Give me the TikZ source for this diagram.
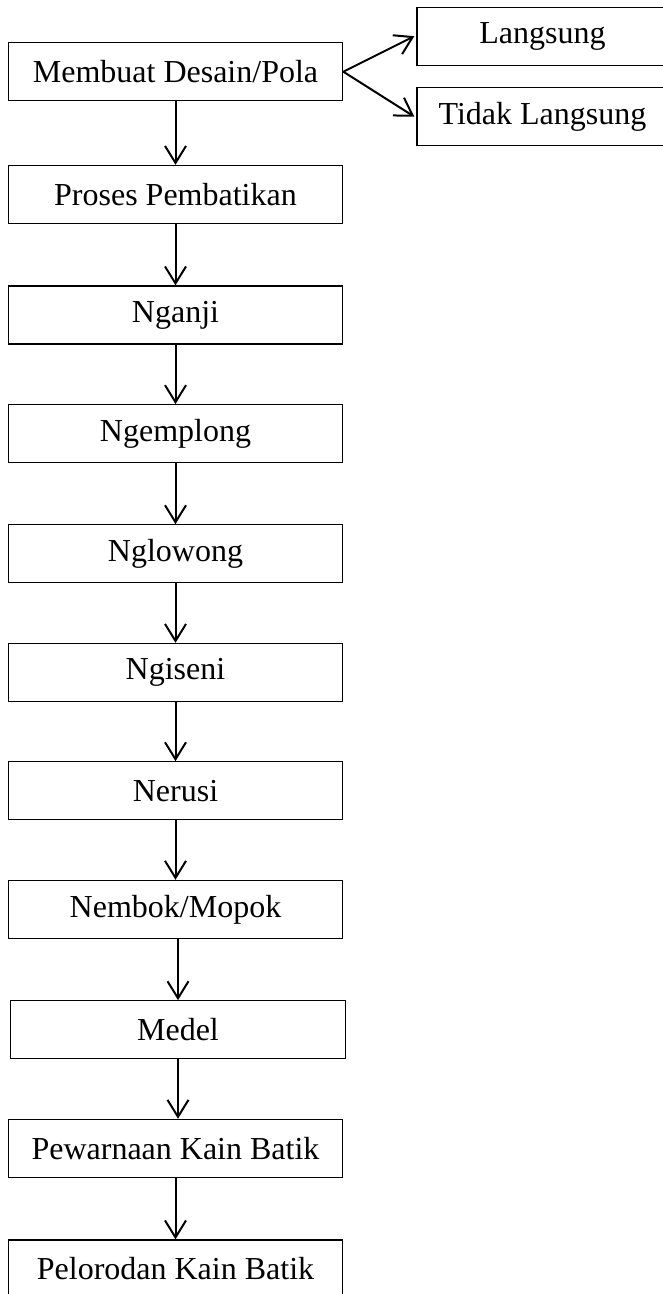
\documentclass[tikz,border=0pt]{standalone}
\usepackage{fontspec}
\setmainfont{Liberation Serif}
\usetikzlibrary{arrows.meta}
\begin{document}
\begin{tikzpicture}[x=1pt,y=-1pt,
  box/.style={draw=black,line width=1.3pt,minimum width=334.4pt,minimum height=58pt,inner sep=0pt,font=\fontsize{32}{36}\selectfont,anchor=center},
  sidebox/.style={box,minimum width=251pt},
  arr/.style={line width=2pt,-{Straight Barb[length=17pt,width=21pt,line width=2pt]}}]
\clip (0,0) rectangle (663,1294);
\fill[white] (0,0) rectangle (663,1294);
\node[box] (a) at (175.5,71.7) {Membuat Desain/Pola};
\node[sidebox] (l) at (542.5,36.2) {Langsung};
\node[sidebox] (t) at (542.5,116.7) {Tidak Langsung};
\node[box] (b) at (175.5,194.5) {Proses Pembatikan};
\node[box] (c) at (175.5,315) {Nganji};
\node[box] (d) at (175.5,433.7) {Ngemplong};
\node[box] (e) at (175.5,553.8) {Nglowong};
\node[box] (f) at (175.5,672.5) {Ngiseni};
\node[box] (g) at (175.5,790.8) {Nerusi};
\node[box] (h) at (175.5,909.4) {Nembok/Mopok};
\node[box] (i) at (178,1029.8) {Medel};
\node[box] (j) at (175.5,1148.4) {Pewarnaan Kain Batik};
\node[box] (k) at (175.5,1269) {Pelorodan Kain Batik};
\draw[arr] (a.east) -- ([xshift=-2pt]l.west);
\draw[arr] (a.east) -- ([xshift=-2pt]t.west);
\draw[arr] (a.south) -- (b.north);
\draw[arr] (b.south) -- (c.north);
\draw[arr] (c.south) -- (d.north);
\draw[arr] (d.south) -- (e.north);
\draw[arr] (e.south) -- (f.north);
\draw[arr] (f.south) -- (g.north);
\draw[arr] (g.south) -- (h.north);
\draw[arr] (i.north |- h.south) -- (i.north);
\draw[arr] (i.south) -- (i.south |- j.north);
\draw[arr] (j.south) -- (k.north);
\end{tikzpicture}
\end{document}
